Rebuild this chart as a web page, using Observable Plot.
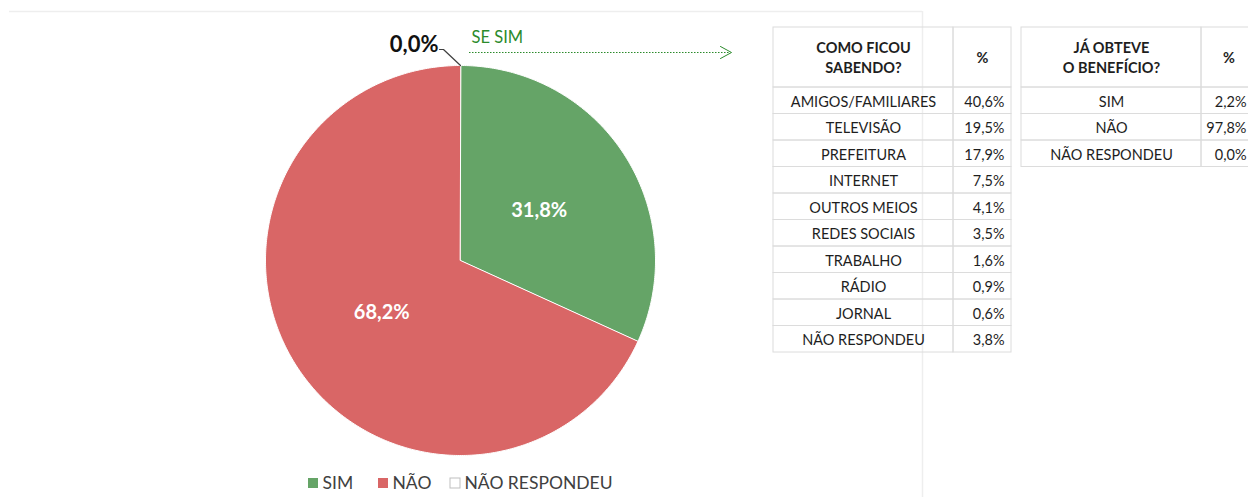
<!DOCTYPE html>
<html>
<head>
<meta charset="utf-8">
<script src="https://cdn.jsdelivr.net/npm/d3@7"></script>
<script src="https://cdn.jsdelivr.net/npm/@observablehq/plot@0.6"></script>
<style>
  html, body { margin: 0; padding: 0; background: #ffffff; }
  #chart { width: 1248px; height: 497px; overflow: hidden; }
</style>
</head>
<body>
<div id="chart"></div>
<script>
// ---------- DATA ----------
const pieCategories = ["SIM", "NÃO", "NÃO RESPONDEU"];
const pieValues = [31.8, 68.2, 0.0];
const pieColors = ["#65a467", "#d96666", "#ffffff"];

const sourceHeader = ["COMO FICOU", "SABENDO?"];
const sourceLabels = ["AMIGOS/FAMILIARES", "TELEVISÃO", "PREFEITURA", "INTERNET", "OUTROS MEIOS",
  "REDES SOCIAIS", "TRABALHO", "RÁDIO", "JORNAL", "NÃO RESPONDEU"];
const sourceValues = [40.6, 19.5, 17.9, 7.5, 4.1, 3.5, 1.6, 0.9, 0.6, 3.8];

const benefitHeader = ["JÁ OBTEVE", "O BENEFÍCIO?"];
const benefitLabels = ["SIM", "NÃO", "NÃO RESPONDEU"];
const benefitValues = [2.2, 97.8, 0.0];

const annotationText = "SE SIM";

// ---------- LAYOUT ----------
const W = 1248, H = 497;
const FONT = "Lato, 'Open Sans', sans-serif";
const cx = 460, cy = 260, R = 195;
const fmt = v => v.toFixed(1).replace(".", ",") + "%";

// pie geometry from data
const arcs = d3.pie().sort(null).value(d => d.value)(
  pieCategories.map((c, i) => ({cat: c, value: pieValues[i]}))
);
const polar = (a, r) => ({x: cx + r * Math.sin(a), y: cy - r * Math.cos(a)});
const piePoints = [];
arcs.filter(a => a.data.value > 0).forEach(a => {
  piePoints.push({cat: a.data.cat, ...polar(0, 0)});
  const n = Math.max(2, Math.ceil((a.endAngle - a.startAngle) / 0.01));
  for (let k = 0; k <= n; k++) {
    const ang = a.startAngle + (a.endAngle - a.startAngle) * k / n;
    piePoints.push({cat: a.data.cat, ...polar(ang, R)});
  }
});
const insideLabels = arcs.filter(a => a.data.value > 0).map(a => ({
  text: fmt(a.data.value), ...polar((a.startAngle + a.endAngle) / 2, R * 0.48)
}));
const zeroArcs = arcs.filter(a => a.data.value === 0);
const leaderPoints = [];
const zeroLabels = [];
zeroArcs.forEach(a => {
  const ang = (a.startAngle + a.endAngle) / 2;
  const p0 = polar(ang, R);
  const p1 = {x: p0.x - 17, y: p0.y - 16};
  const p2 = {x: p1.x - 4, y: p1.y};
  leaderPoints.push({id: a.data.cat, ...p0}, {id: a.data.cat, ...p1}, {id: a.data.cat, ...p2});
  zeroLabels.push({text: fmt(a.data.value), x: p2.x - 1, y: p2.y - 5});
});

// legend
const legendX = [308, 378, 450];
const legendItems = pieCategories.map((c, i) => ({cat: c, x: legendX[i], y: 483}));

// tables
function buildTable(x0, xDiv, x1, valueRight, yTop, headH, rowH, header, labels, values) {
  const cells = [], heads = [], labelTexts = [], valueTexts = [];
  cells.push({x1: x0, x2: xDiv, y1: yTop, y2: yTop + headH});
  cells.push({x1: xDiv, x2: x1, y1: yTop, y2: yTop + headH});
  header.forEach((h, i) => heads.push({text: h, x: (x0 + xDiv) / 2, y: yTop + headH / 2 + (i - 0.5) * 20}));
  heads.push({text: "%", x: (xDiv + x1) / 2, y: yTop + headH / 2});
  labels.forEach((l, i) => {
    const ya = yTop + headH + i * rowH;
    cells.push({x1: x0, x2: xDiv, y1: ya, y2: ya + rowH});
    cells.push({x1: xDiv, x2: x1, y1: ya, y2: ya + rowH});
    labelTexts.push({text: l, x: (x0 + xDiv) / 2, y: ya + rowH / 2});
    valueTexts.push({text: fmt(values[i]), x: valueRight, y: ya + rowH / 2});
  });
  return {cells, heads, labelTexts, valueTexts};
}
const t1 = buildTable(773, 953, 1011, 1004, 27, 60, 26.5, sourceHeader, sourceLabels, sourceValues);
const t2 = buildTable(1021, 1201, 1256, 1246, 27, 60, 26.5, benefitHeader, benefitLabels, benefitValues);
const tableCells = [...t1.cells, ...t2.cells];
const headTexts = [...t1.heads, ...t2.heads];
const labelTexts = [...t1.labelTexts, ...t2.labelTexts];
const valueTexts = [...t1.valueTexts, ...t2.valueTexts];

// annotation arrow
const arrowY = 52, arrowX1 = 469, arrowX2 = 731;
const arrowHead = [
  {x: arrowX2 - 11, y: arrowY - 6}, {x: arrowX2, y: arrowY}, {x: arrowX2 - 11, y: arrowY + 6}
];

const TXT = "#1e1e1e";
const chart = Plot.plot({
  width: W, height: H, margin: 0,
  x: {domain: [0, W], range: [0, W], axis: null},
  y: {domain: [0, H], range: [0, H], axis: null},
  color: {domain: pieCategories, range: pieColors},
  style: {fontFamily: FONT, background: "#ffffff", overflow: "hidden"},
  marks: [
    // faint chart frame
    Plot.ruleY([11], {x1: 9, x2: 922, stroke: "#eeeeee", strokeWidth: 1.5}),
    Plot.ruleX([922], {y1: 11, y2: H, stroke: "#eeeeee", strokeWidth: 1.5}),
    // pie
    Plot.line(piePoints, {x: "x", y: "y", z: "cat", fill: "cat", stroke: "#ffffff", strokeWidth: 1, curve: "linear-closed"}),
    Plot.text(insideLabels, {x: "x", y: "y", text: "text", fill: "#ffffff", fontSize: 20, fontWeight: "bold", dy: 1}),
    // zero slice leader + label
    Plot.line(leaderPoints, {x: "x", y: "y", z: "id", stroke: "#404040", strokeWidth: 1.2}),
    Plot.text(zeroLabels, {x: "x", y: "y", text: "text", textAnchor: "end", fill: "#111111", fontSize: 22, fontWeight: "bold"}),
    // annotation
    Plot.text([annotationText], {x: 471, y: 37, text: d => d, textAnchor: "start", fill: "#2b8a2b", fontSize: 16.5}),
    Plot.ruleY([arrowY], {x1: arrowX1, x2: arrowX2 - 1, stroke: "#2b8a2b", strokeWidth: 1, strokeDasharray: "1.5,1.5"}),
    Plot.line(arrowHead, {x: "x", y: "y", stroke: "#2b8a2b", strokeWidth: 1}),
    // legend
    Plot.rect(legendItems, {x1: d => d.x, x2: d => d.x + 10, y1: d => d.y - 5, y2: d => d.y + 5, fill: "cat", stroke: d => d.cat === "NÃO RESPONDEU" ? "#bfbfbf" : "none", strokeWidth: 1}),
    Plot.text(legendItems, {x: d => d.x + 14, y: d => d.y, text: "cat", textAnchor: "start", fill: "#404040", fontSize: 17.5}),
    // tables
    Plot.rect(tableCells, {x1: "x1", x2: "x2", y1: "y1", y2: "y2", fill: "none", stroke: "#dcdcdc", strokeWidth: 1}),
    Plot.text(headTexts, {x: "x", y: "y", text: "text", textAnchor: "middle", fontWeight: "bold", fill: TXT, fontSize: 14.5, dy: 1}),
    Plot.text(labelTexts, {x: "x", y: "y", text: "text", textAnchor: "middle", fill: TXT, fontSize: 14.5, dy: 1.5}),
    Plot.text(valueTexts, {x: "x", y: "y", text: "text", textAnchor: "end", fill: TXT, fontSize: 14.5, dy: 1.5})
  ]
});
document.getElementById("chart").appendChild(chart);
</script>
</body>
</html>
